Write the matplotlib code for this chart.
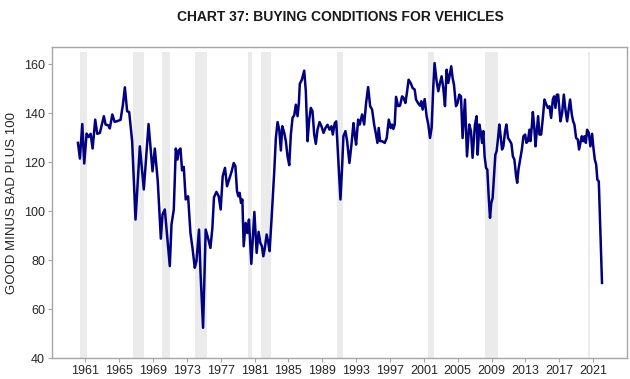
import numpy as np
import matplotlib
matplotlib.use('Agg')
import matplotlib.pyplot as plt

# Buying conditions for vehicles, good minus bad plus 100
years = [
    1960.14, 1960.37, 1960.65, 1960.88, 1961.16, 1961.40, 1961.64, 1961.87, 1962.18, 1962.42,
    1962.73, 1963.20, 1963.40, 1963.70, 1963.90, 1964.20, 1964.47, 1964.70, 1965.17, 1965.45,
    1965.68, 1965.95, 1966.19, 1966.54, 1966.94, 1967.45, 1967.92, 1968.48, 1968.95, 1969.22,
    1969.57, 1969.93, 1970.13, 1970.40, 1970.99, 1971.19, 1971.46, 1971.70, 1971.90, 1972.05,
    1972.25, 1972.44, 1972.64, 1972.87, 1973.15, 1973.43, 1973.67, 1973.94, 1974.14, 1974.44,
    1974.61, 1974.92, 1975.23, 1975.50, 1975.79, 1976.02, 1976.21, 1976.50, 1976.77, 1977.00,
    1977.24, 1977.51, 1977.75, 1978.06, 1978.30, 1978.54, 1978.74, 1978.93, 1979.09, 1979.24,
    1979.40, 1979.56, 1979.72, 1979.95, 1980.15, 1980.34, 1980.62, 1980.98, 1981.25, 1981.48,
    1981.68, 1981.87, 1982.04, 1982.22, 1982.43, 1982.63, 1982.78, 1983.02, 1983.33, 1983.52,
    1983.72, 1983.92, 1984.11, 1984.28, 1984.51, 1984.70, 1984.90, 1985.10, 1985.29, 1985.49,
    1985.69, 1985.88, 1986.08, 1986.24, 1986.35, 1986.59, 1986.87, 1987.06, 1987.26, 1987.46,
    1987.65, 1987.85, 1988.05, 1988.24, 1988.44, 1988.68, 1988.91, 1989.15, 1989.38, 1989.62,
    1989.86, 1990.09, 1990.25, 1990.48, 1990.65, 1990.88, 1991.15, 1991.35, 1991.50, 1991.74,
    1991.94, 1992.21, 1992.45, 1992.69, 1992.84, 1993.00, 1993.24, 1993.43, 1993.71, 1993.95,
    1994.18, 1994.42, 1994.66, 1994.89, 1995.13, 1995.28, 1995.52, 1995.67, 1995.84, 1996.07,
    1996.38, 1996.62, 1996.86, 1997.09, 1997.25, 1997.40, 1997.56, 1997.72, 1997.96, 1998.19,
    1998.43, 1998.62, 1998.82, 1999.00, 1999.20, 1999.44, 1999.68, 1999.92, 2000.08, 2000.31,
    2000.55, 2000.70, 2000.86, 2001.10, 2001.33, 2001.53, 2001.73, 2001.92, 2002.12, 2002.27,
    2002.51, 2002.71, 2002.91, 2003.10, 2003.30, 2003.50, 2003.69, 2003.89, 2004.09, 2004.24,
    2004.40, 2004.56, 2004.80, 2004.99, 2005.19, 2005.39, 2005.58, 2005.86, 2006.10, 2006.37,
    2006.57, 2006.76, 2007.04, 2007.24, 2007.36, 2007.56, 2007.71, 2007.88, 2008.03, 2008.18,
    2008.35, 2008.50, 2008.66, 2008.82, 2008.97, 2009.13, 2009.29, 2009.45, 2009.60, 2009.77,
    2009.92, 2010.08, 2010.24, 2010.40, 2010.60, 2010.75, 2010.95, 2011.19, 2011.35, 2011.52,
    2011.70, 2011.90, 2012.03, 2012.18, 2012.38, 2012.58, 2012.77, 2012.97, 2013.12, 2013.29,
    2013.48, 2013.60, 2013.76, 2013.88, 2014.07, 2014.19, 2014.35, 2014.50, 2014.66, 2014.86,
    2015.06, 2015.25, 2015.48, 2015.65, 2015.84, 2016.04, 2016.24, 2016.39, 2016.55, 2016.71,
    2016.87, 2017.14, 2017.34, 2017.54, 2017.73, 2017.93, 2018.08, 2018.28, 2018.48, 2018.64,
    2018.79, 2018.99, 2019.19, 2019.34, 2019.50, 2019.66, 2019.82, 2019.97, 2020.14, 2020.29,
    2020.49, 2020.68, 2020.88, 2021.04, 2021.20, 2021.36, 2021.50, 2021.67, 2022.05,
]
values = [
    127.9, 121.5, 135.6, 119.5, 131.7, 130.3, 131.6, 125.6, 137.4, 131.6,
    132.0, 138.8, 135.4, 135.1, 133.8, 139.5, 136.5, 136.7, 137.3, 143.5,
    150.6, 140.8, 140.5, 128.6, 96.6, 126.5, 108.9, 135.6, 116.3, 125.6,
    112.2, 88.8, 98.7, 100.7, 77.6, 94.6, 100.7, 125.6, 121.1, 124.8,
    125.6, 116.7, 118.1, 104.8, 106.1, 91.1, 85.0, 76.9, 79.6, 92.5,
    75.5, 52.4, 92.5, 89.1, 85.0, 93.2, 105.7, 107.9, 106.1, 100.7,
    114.3, 117.7, 110.2, 113.6, 116.3, 119.7, 118.4, 108.2, 106.1, 107.5,
    103.4, 104.8, 85.7, 95.2, 91.1, 96.6, 78.5, 99.7, 83.0, 91.6,
    87.1, 85.7, 81.6, 85.0, 90.5, 87.1, 83.7, 97.3, 116.3, 129.9,
    136.4, 133.3, 124.8, 134.7, 132.0, 128.6, 122.4, 118.8, 131.3, 138.1,
    139.2, 143.5, 138.8, 144.2, 152.0, 153.7, 157.4, 149.0, 128.6, 137.4,
    142.2, 140.8, 131.3, 127.5, 133.3, 136.4, 134.7, 132.0, 134.0, 135.3,
    133.3, 134.7, 131.3, 136.0, 136.7, 122.0, 104.8, 118.4, 130.6, 132.7,
    128.6, 119.7, 127.2, 136.0, 131.3, 127.2, 137.4, 135.4, 139.5, 135.4,
    144.2, 150.7, 142.9, 141.5, 135.4, 132.7, 127.9, 134.0, 128.6, 128.6,
    127.9, 129.9, 137.4, 134.0, 135.4, 133.6, 135.4, 146.7, 142.9, 143.1,
    146.9, 146.2, 144.2, 148.3, 153.7, 152.4, 150.3, 149.7, 145.6, 144.2,
    143.1, 144.9, 141.5, 145.8, 138.8, 135.4, 129.9, 134.0, 151.0, 160.5,
    153.1, 149.0, 152.4, 155.1, 150.3, 142.9, 157.8, 152.4, 156.4, 159.2,
    154.4, 151.7, 142.9, 144.2, 147.6, 146.9, 129.9, 145.6, 122.4, 135.4,
    132.7, 121.8, 135.4, 138.8, 123.1, 135.4, 132.7, 127.9, 132.7, 122.4,
    117.7, 117.0, 106.1, 97.3, 103.4, 105.4, 114.3, 123.1, 124.5, 129.9,
    135.4, 130.6, 125.2, 126.5, 132.7, 135.4, 129.9, 128.6, 127.5, 122.4,
    121.1, 114.3, 111.6, 117.0, 121.1, 125.2, 130.6, 131.3, 127.9, 128.6,
    133.3, 128.6, 134.7, 140.5, 133.3, 126.5, 132.7, 138.8, 131.3, 131.3,
    138.1, 145.6, 143.5, 142.2, 142.9, 138.1, 145.6, 146.9, 142.2, 147.6,
    147.6, 136.7, 140.1, 147.6, 141.5, 136.7, 140.8, 145.6, 139.5, 136.7,
    135.4, 129.9, 129.3, 125.2, 127.9, 130.6, 128.6, 130.6, 127.9, 133.3,
    132.0, 126.5, 131.6, 125.8, 121.1, 119.1, 112.9, 112.2, 70.7,
]

# shaded periods (start, end) in decimal years
shade_start = [1960.37, 1966.59, 1970.08, 1974.02, 1980.27, 1981.72, 1990.72, 2001.45, 2008.22, 2020.43]
shade_end = [1961.17, 1967.96, 1970.99, 1975.35, 1980.74, 1983.00, 1991.42, 2002.16, 2009.75, 2020.67]

tick_years = list(range(1961, 2022, 4))
y_ticks = [40, 60, 80, 100, 120, 140, 160]

plt.rcParams['font.family'] = ['Liberation Sans', 'DejaVu Sans']

fig = plt.figure(figsize=(6.3, 3.79), dpi=100)
ax = fig.add_axes([0.0825, 0.055, 0.9127, 0.8206])

for s, e in zip(shade_start, shade_end):
    ax.axvspan(s, e, ymin=0, ymax=0.985, color='#ebebeb', lw=0, zorder=0)

ax.plot(years, values, color='#000080', lw=1.8, zorder=2)

ax.set_xlim(1957.07, 2025.0)
ax.set_ylim(40, 167)
ax.set_xticks(tick_years)
ax.set_xticklabels([str(y) for y in tick_years])
ax.set_yticks(y_ticks)

for sp in ax.spines.values():
    sp.set_color('#a6a6a6')
    sp.set_linewidth(1.0)
ax.tick_params(axis='both', colors='#a6a6a6', labelcolor='#262626', labelsize=9, length=3, width=0.8)
ax.tick_params(axis='x', pad=2)
ax.tick_params(axis='y', pad=2)

ax.set_ylabel('GOOD MINUS BAD PLUS 100', fontsize=9.5, color='#262626', labelpad=4)
fig.text(0.54, 0.955, 'CHART 37: BUYING CONDITIONS FOR VEHICLES', ha='center', va='center',
         fontsize=10, fontweight='bold', color='#1a1a1a')

fig.savefig('out.png', dpi=100)
